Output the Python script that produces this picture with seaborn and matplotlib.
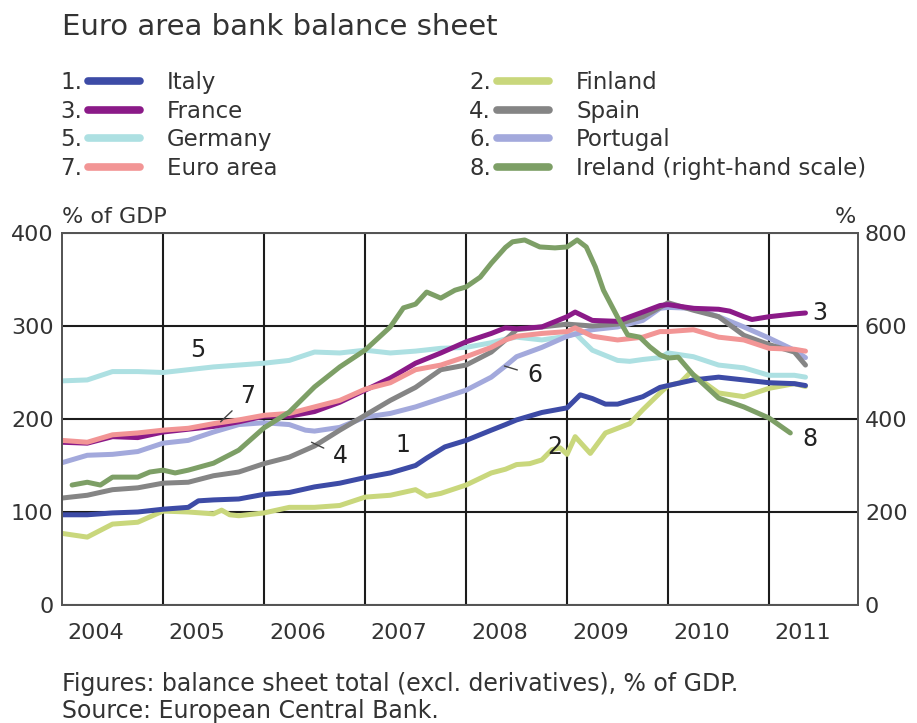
import pandas as pd
import matplotlib
matplotlib.use("Agg")
import matplotlib.pyplot as plt
from matplotlib.lines import Line2D
import seaborn as sns

# values, % of GDP (Ireland: % on the right-hand scale)
italy_x = [2004.0, 2004.25, 2004.5, 2004.75, 2005.0, 2005.25, 2005.35, 2005.5, 2005.75, 2006.0, 2006.25, 2006.5,
           2006.75, 2007.0, 2007.25, 2007.5, 2007.61, 2007.79, 2008.0, 2008.25, 2008.39, 2008.5, 2008.75, 2009.0,
           2009.13, 2009.25, 2009.38, 2009.5, 2009.75, 2009.92, 2010.0, 2010.25, 2010.5, 2010.75, 2011.0, 2011.25,
           2011.36]
italy_y = [97, 97, 99, 100, 103, 105, 112, 113, 114, 119, 121, 127, 131, 137, 142, 150, 158, 170, 177, 188, 194,
           199, 207, 212, 226, 222, 216, 216, 224, 234, 236, 242, 245, 242, 239, 238, 236]

finland_x = [2004.0, 2004.25, 2004.5, 2004.75, 2005.0, 2005.25, 2005.5, 2005.58, 2005.66, 2005.75, 2006.0, 2006.25,
             2006.5, 2006.75, 2007.0, 2007.25, 2007.5, 2007.61, 2007.75, 2008.0, 2008.25, 2008.39, 2008.5, 2008.63,
             2008.75, 2008.85, 2008.93, 2009.0, 2009.08, 2009.23, 2009.38, 2009.62, 2009.75, 2009.92, 2010.0,
             2010.12, 2010.22, 2010.5, 2010.75, 2011.0, 2011.25, 2011.36]
finland_y = [77, 73, 87, 89, 101, 100, 98, 102, 97, 96, 99, 105, 105, 107, 116, 118, 124, 117, 120, 129, 142, 146,
             151, 152, 156, 167, 169, 162, 181, 163, 185, 195, 210, 228, 236, 239, 250, 228, 224, 233, 238, 235]

france_x = [2004.0, 2004.25, 2004.5, 2004.75, 2005.0, 2005.5, 2005.75, 2006.0, 2006.25, 2006.5, 2006.75, 2007.0,
            2007.25, 2007.5, 2007.75, 2008.0, 2008.25, 2008.39, 2008.5, 2008.75, 2009.0, 2009.08, 2009.25, 2009.5,
            2009.75, 2009.92, 2010.0, 2010.25, 2010.5, 2010.61, 2010.75, 2010.83, 2011.0, 2011.25, 2011.36]
france_y = [175, 174, 181, 180, 186, 192, 197, 203, 203, 208, 218, 231, 244, 260, 271, 283, 292, 298, 297, 299, 310,
            315, 306, 305, 315, 322, 323, 319, 318, 316, 310, 307, 310, 313, 314]

spain_x = [2004.0, 2004.25, 2004.5, 2004.75, 2005.0, 2005.25, 2005.5, 2005.75, 2006.0, 2006.25, 2006.5, 2006.75,
           2007.0, 2007.25, 2007.5, 2007.75, 2008.0, 2008.25, 2008.39, 2008.5, 2008.75, 2009.0, 2009.25, 2009.5,
           2009.75, 2009.92, 2010.0, 2010.25, 2010.5, 2010.75, 2011.0, 2011.25, 2011.36]
spain_y = [115, 118, 124, 126, 131, 132, 139, 143, 152, 159, 171, 188, 204, 220, 234, 253, 258, 272, 285, 296, 299,
           302, 300, 302, 310, 320, 325, 317, 310, 290, 280, 272, 258]

germany_x = [2004.0, 2004.25, 2004.5, 2004.75, 2005.0, 2005.25, 2005.5, 2005.75, 2006.0, 2006.25, 2006.5, 2006.75,
             2007.0, 2007.25, 2007.5, 2007.75, 2008.0, 2008.25, 2008.39, 2008.5, 2008.75, 2009.0, 2009.08, 2009.25,
             2009.5, 2009.62, 2009.75, 2009.92, 2010.0, 2010.25, 2010.5, 2010.75, 2011.0, 2011.25, 2011.36]
germany_y = [241, 242, 251, 251, 250, 253, 256, 258, 260, 263, 272, 271, 274, 271, 273, 276, 277, 282, 286, 288,
             285, 289, 292, 274, 263, 262, 264, 266, 271, 267, 258, 255, 247, 247, 245]

portugal_x = [2004.0, 2004.25, 2004.5, 2004.75, 2005.0, 2005.25, 2005.5, 2005.75, 2006.0, 2006.25, 2006.41, 2006.5,
              2006.75, 2007.0, 2007.25, 2007.5, 2007.75, 2008.0, 2008.25, 2008.39, 2008.5, 2008.75, 2009.0, 2009.25,
              2009.5, 2009.75, 2009.92, 2010.0, 2010.25, 2010.5, 2010.75, 2011.0, 2011.25, 2011.36]
portugal_y = [153, 161, 162, 165, 174, 177, 186, 194, 196, 194, 188, 187, 191, 202, 206, 213, 222, 231, 245, 257,
              267, 277, 289, 296, 299, 306, 319, 320, 319, 310, 299, 287, 274, 266]

euro_x = [2004.0, 2004.25, 2004.5, 2004.75, 2005.0, 2005.25, 2005.5, 2005.75, 2006.0, 2006.25, 2006.5, 2006.75,
          2007.0, 2007.25, 2007.5, 2007.75, 2008.0, 2008.25, 2008.39, 2008.5, 2008.75, 2009.0, 2009.08, 2009.25,
          2009.5, 2009.75, 2009.92, 2010.0, 2010.25, 2010.5, 2010.75, 2011.0, 2011.25, 2011.36]
euro_y = [177, 175, 183, 185, 188, 190, 195, 199, 204, 206, 213, 220, 232, 239, 253, 258, 267, 277, 285, 289, 292,
          294, 298, 289, 285, 288, 294, 294, 296, 288, 285, 276, 275, 273]

ireland_x = [2004.1, 2004.25, 2004.38, 2004.5, 2004.75, 2004.87, 2005.0, 2005.12, 2005.25, 2005.5, 2005.75, 2006.0,
             2006.25, 2006.5, 2006.75, 2007.0, 2007.25, 2007.38, 2007.5, 2007.61, 2007.75, 2007.89, 2008.0, 2008.14,
             2008.25, 2008.39, 2008.46, 2008.58, 2008.73, 2008.88, 2009.0, 2009.1, 2009.19, 2009.28, 2009.36,
             2009.5, 2009.6, 2009.72, 2009.82, 2009.92, 2010.0, 2010.1, 2010.25, 2010.5, 2010.75, 2011.0, 2011.21]
ireland_y = [258, 264, 258, 275, 275, 286, 290, 284, 290, 305, 333, 381, 415, 469, 512, 548, 598, 639, 647, 673,
             660, 677, 684, 705, 735, 769, 781, 785, 770, 768, 770, 785, 770, 727, 677, 619, 581, 576, 555, 538, 531,
             533, 495, 445, 426, 402, 370]

years = [2004, 2005, 2006, 2007, 2008, 2009, 2010, 2011]

colors = {
    "Italy": "#3d4ba6",
    "Finland": "#c9d77c",
    "France": "#8b1a88",
    "Spain": "#858585",
    "Germany": "#ade0e2",
    "Portugal": "#a3a9dc",
    "Euro area": "#f29595",
    "Ireland (right-hand scale)": "#7d9f66",
}
ink = "#333333"


def series(name, xs, ys):
    return pd.DataFrame({"date": xs, "value": ys, "country": name})


left_df = pd.concat([
    series("Germany", germany_x, germany_y),
    series("Portugal", portugal_x, portugal_y),
    series("Spain", spain_x, spain_y),
    series("France", france_x, france_y),
    series("Euro area", euro_x, euro_y),
    series("Finland", finland_x, finland_y),
    series("Italy", italy_x, italy_y),
])
right_df = series("Ireland (right-hand scale)", ireland_x, ireland_y)

sns.set_theme(style="white")
plt.rcParams["font.family"] = ["DejaVu Sans"]

fig = plt.figure(figsize=(9.17, 7.23), dpi=100)
ax = fig.add_axes([62 / 917, 1 - 605 / 723, 796 / 917, 372 / 723])

draw_order = ["Germany", "Portugal", "Spain", "France", "Euro area", "Finland", "Italy"]
sns.lineplot(data=left_df, x="date", y="value", hue="country", hue_order=draw_order,
             palette=colors, estimator=None, sort=False, linewidth=3.6, legend=False, ax=ax)

ax2 = ax.twinx()
sns.lineplot(data=right_df, x="date", y="value", color=colors["Ireland (right-hand scale)"],
             estimator=None, sort=False, linewidth=3.6, legend=False, ax=ax2)

ax.set_xlim(2004.0, 2011.88)
ax.set_ylim(0, 400)
ax2.set_ylim(0, 800)
ax.set_yticks([0, 100, 200, 300, 400])
ax2.set_yticks([0, 200, 400, 600, 800])
ax.set_xticks(years[1:])
ax.set_xticklabels([])
ax.set_xticks([y + 0.33 for y in years], minor=True)
ax.set_xticklabels([str(y) for y in years], minor=True)
ax.set_xlabel("")
ax.set_ylabel("")
ax2.set_ylabel("")

ax.grid(True, which="major", color="#1c1c1c", linewidth=1.5)
ax2.grid(False)
ax.tick_params(which="both", length=0, labelsize=16, labelcolor=ink)
ax.tick_params(axis="y", pad=6)
ax.tick_params(axis="x", which="minor", pad=13)
ax2.tick_params(length=0, labelsize=16, labelcolor=ink, pad=5)
for a in (ax, ax2):
    for sp in a.spines.values():
        sp.set_color("#555555")
        sp.set_linewidth(1.3)

ax.text(0.0, 1.015, "% of GDP", transform=ax.transAxes, ha="left", va="bottom", fontsize=16, color=ink)
ax.text(0.997, 1.015, "%", transform=ax.transAxes, ha="right", va="bottom", fontsize=16, color=ink)

# series numbers on the chart
lab = dict(fontsize=17, color="#222222", ha="center", va="center")
ax.text(2005.34, 274, "5", **lab)
ax.text(2007.37, 172, "1", **lab)
ax.text(2008.88, 170, "2", **lab)
ax.text(2011.50, 314, "3", **lab)
ax.text(2011.40, 178, "8", **lab)
lead = dict(arrowstyle="-", color="#444444", lw=1.0, shrinkA=5, shrinkB=0)
ax.annotate("7", xy=(2005.57, 197), xytext=(2005.84, 225), arrowprops=lead, **lab)
ax.annotate("4", xy=(2006.47, 175), xytext=(2006.76, 160), arrowprops=lead, **lab)
ax.annotate("6", xy=(2008.38, 257), xytext=(2008.68, 247), arrowprops=lead, **lab)

fig.text(62 / 917, 1 - 35 / 723, "Euro area bank balance sheet", fontsize=21, color=ink, ha="left", va="baseline")
fig.text(62 / 917, 1 - 691 / 723, "Figures: balance sheet total (excl. derivatives), % of GDP.",
         fontsize=17, color=ink, ha="left", va="baseline")
fig.text(62 / 917, 1 - 718 / 723, "Source: European Central Bank.",
         fontsize=17, color=ink, ha="left", va="baseline")

# legend in two columns, numbers put in front of each key
col1 = ["Italy", "France", "Germany", "Euro area"]
col2 = ["Finland", "Spain", "Portugal", "Ireland (right-hand scale)"]
num1 = ["1.", "3.", "5.", "7."]
num2 = ["2.", "4.", "6.", "8."]
legends = []
for names, x0 in ((col1, 88 / 917), (col2, 497 / 917)):
    handles = [Line2D([], [], color=colors[n], lw=5.5, solid_capstyle="round") for n in names]
    leg = fig.legend(handles, names, loc="upper left", bbox_to_anchor=(x0, 1 - 71 / 723), frameon=False,
                     fontsize=16.5, handlelength=2.25, handletextpad=1.2, labelspacing=0.25,
                     borderpad=0, borderaxespad=0, labelcolor=ink)
    legends.append(leg)

fig.canvas.draw()
renderer = fig.canvas.get_renderer()
W, H = fig.bbox.width, fig.bbox.height
for leg, nums in zip(legends, (num1, num2)):
    for h, t, n in zip(leg.legend_handles, leg.get_texts(), nums):
        hb = h.get_window_extent(renderer)
        tb = t.get_window_extent(renderer)
        fig.text((hb.x0 - 6) / W, tb.y0 / H, n, fontsize=16.5, color=ink, ha="right", va="bottom")

fig.savefig("out.png", dpi=100)
